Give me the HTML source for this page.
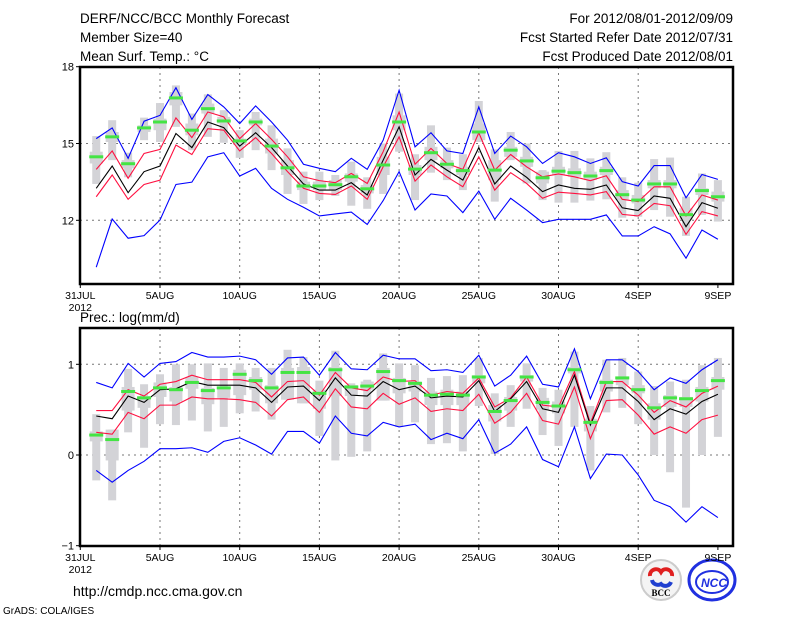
<!DOCTYPE html>
<html><head><meta charset="utf-8"><style>
body{margin:0;background:#fff}
svg text{font-family:"Liberation Sans",sans-serif;fill:#000}
</style></head><body>
<svg id="c" width="800" height="618" xmlns="http://www.w3.org/2000/svg">
<text x="80" y="23" font-size="13.5">DERF/NCC/BCC Monthly Forecast</text>
<text x="80" y="42" font-size="13.5">Member Size=40</text>
<text x="80" y="61" font-size="13.5">Mean Surf. Temp.: °C</text>
<text x="733" y="23" font-size="13.5" text-anchor="end">For 2012/08/01-2012/09/09</text>
<text x="733" y="42" font-size="13.5" text-anchor="end">Fcst Started Refer Date 2012/07/31</text>
<text x="733" y="61" font-size="13.5" text-anchor="end">Fcst Produced Date 2012/08/01</text>
<text x="80" y="322" font-size="13.5">Prec.: log(mm/d)</text>
<text x="73" y="596" font-size="14">http://cmdp.ncc.cma.gov.cn</text>
<text x="3" y="614" font-size="10">GrADS: COLA/IGES</text>
<g>
<circle cx="661" cy="580" r="20" fill="#f4f4f4" stroke="#ccc" stroke-width="2"/>
<path d="M650 576 a6 6 0 0 1 11 -4 a6 6 0 0 1 11 4" stroke="#e02020" stroke-width="4" fill="none"/>
<path d="M652 580 a6 6 0 0 0 9 4 a6 6 0 0 0 10 -2" stroke="#2040d0" stroke-width="4" fill="none"/>
<text x="661" y="596" font-size="9" font-weight="bold" text-anchor="middle" style="font-family:'Liberation Serif',serif">BCC</text>
</g>
<g>
<ellipse cx="712" cy="580" rx="23" ry="20" fill="#fff" stroke="#2030e0" stroke-width="3"/>
<ellipse cx="712" cy="582" rx="16" ry="11" fill="none" stroke="#2030e0" stroke-width="2"/>
<text x="714" y="587" font-size="12" font-weight="bold" font-style="italic" text-anchor="middle" style="fill:#2030e0">NCC</text>
</g>
</svg>
<script>
const days=[1,2,3,4,5,6,7,8,9,10,11,12,13,14,15,16,17,18,19,20,21,22,23,24,25,26,27,28,29,30,31,32,33,34,35,36,37,38,39,40];
const xTickDays=[0,5,10,15,20,25,30,35,40];
const xTickLabels=["31JUL","5AUG","10AUG","15AUG","20AUG","25AUG","30AUG","4SEP","9SEP"];
const tTicks=[18,15,12];
const pTicks=[1,0,-1];
// temperature
const tBlueHi=[15.19,15.61,14.42,15.87,16.10,17.18,15.94,16.91,16.43,15.78,16.47,15.84,15.13,14.19,14.03,13.90,14.42,13.99,15.13,17.08,14.87,15.42,14.71,14.61,16.43,14.61,15.29,14.87,14.22,14.64,14.48,14.22,14.44,13.51,13.34,14.14,14.14,12.88,13.79,13.60];
const tRedHi=[13.99,14.71,13.64,14.61,14.77,16.00,15.23,16.23,16.04,15.19,15.78,15.16,14.48,13.70,13.55,13.47,13.83,13.44,14.68,16.23,14.19,14.81,14.22,13.99,15.42,13.96,14.57,14.09,13.70,13.81,13.70,13.55,13.74,12.82,12.73,13.31,13.31,12.17,12.99,12.79];
const tMean=[13.25,14.12,13.08,13.90,14.12,15.39,14.84,15.84,15.62,14.90,15.42,14.84,14.12,13.42,13.18,13.18,13.47,12.99,14.35,15.65,13.77,14.38,13.96,13.57,14.84,13.42,14.12,13.68,13.12,13.38,13.25,13.21,13.38,12.49,12.38,12.95,12.86,11.75,12.69,12.47];
const tRedLo=[12.92,13.77,12.82,13.40,13.57,14.94,14.57,15.58,15.52,14.71,15.23,14.61,13.90,13.25,13.05,13.01,13.34,12.82,14.09,15.26,13.53,14.16,13.70,13.31,14.48,13.18,13.86,13.44,12.86,13.10,13.05,12.99,13.12,12.23,12.17,12.66,12.57,11.45,12.34,12.17];
const tBlueLo=[10.17,12.05,11.30,11.40,12.01,13.40,13.49,14.48,14.64,13.73,14.03,13.25,12.82,12.51,12.17,12.25,12.32,11.84,12.77,13.90,12.40,13.03,12.95,12.30,13.14,12.04,12.86,12.40,11.91,12.04,12.04,12.04,12.21,11.39,11.39,11.75,11.47,10.52,11.62,11.26];
const tObs=[14.48,15.26,14.21,15.61,15.84,16.78,15.52,16.36,15.88,15.10,15.84,14.90,14.05,13.34,13.34,13.39,13.70,13.23,14.16,15.84,14.00,14.64,14.19,13.94,15.45,13.96,14.74,14.32,13.66,13.92,13.86,13.73,13.94,13.00,12.79,13.42,13.42,12.22,13.16,12.92];
const tWMax=[15.29,15.91,14.64,16.01,16.58,17.27,16.17,16.92,16.30,15.52,16.23,15.71,14.81,13.90,13.90,13.77,14.29,13.68,15.00,16.95,14.58,15.71,14.84,14.58,16.66,14.77,15.45,15.00,13.96,14.71,14.71,14.42,14.66,13.68,13.47,14.39,14.45,12.92,13.83,13.57];
const tWMin=[13.42,14.35,13.68,15.13,15.06,15.65,14.74,15.26,15.03,14.44,14.74,13.96,13.03,12.64,12.79,12.95,12.57,12.45,13.03,14.68,12.79,13.86,13.57,13.18,15.06,12.73,14.35,13.44,12.79,12.69,12.69,12.77,12.82,12.10,12.14,12.40,12.14,11.39,12.21,11.95];
const tQ3=[14.68,15.45,14.35,15.71,15.97,17.01,15.78,16.56,16.04,15.19,15.97,15.19,14.35,13.51,13.51,13.57,13.83,13.38,14.48,16.10,14.16,14.87,14.35,14.09,15.78,14.35,14.87,14.48,13.90,14.09,14.03,13.90,14.09,13.18,12.99,13.57,13.57,12.47,13.25,13.12];
const tQ1=[14.22,15.06,14.03,15.45,15.52,16.49,15.32,16.17,15.78,14.94,15.71,14.61,13.77,13.18,13.18,13.18,13.51,13.05,13.77,15.52,13.77,14.35,14.03,13.77,15.13,13.57,14.48,14.09,13.44,13.77,13.70,13.57,13.77,12.79,12.66,13.25,13.25,12.01,12.99,12.73];
// precipitation
const pBlueHi=[0.80,0.74,1.01,0.86,1.01,1.03,1.13,1.08,1.08,1.09,1.05,0.89,1.07,1.08,0.88,1.13,0.95,0.94,1.10,1.06,1.06,0.93,0.94,0.91,1.10,0.76,0.88,1.09,0.78,0.75,1.17,0.62,1.05,1.05,0.92,0.72,0.85,0.79,0.94,1.05];
const pRedHi=[0.49,0.49,0.72,0.65,0.78,0.81,0.88,0.83,0.83,0.83,0.80,0.64,0.81,0.82,0.66,0.91,0.74,0.71,0.86,0.81,0.82,0.66,0.70,0.68,0.85,0.53,0.63,0.86,0.55,0.53,0.92,0.35,0.81,0.81,0.66,0.47,0.60,0.53,0.68,0.76];
const pMean=[0.43,0.40,0.65,0.58,0.72,0.73,0.81,0.77,0.77,0.77,0.74,0.58,0.75,0.76,0.60,0.85,0.66,0.65,0.81,0.72,0.76,0.63,0.65,0.64,0.82,0.48,0.62,0.81,0.51,0.47,0.88,0.33,0.74,0.74,0.59,0.39,0.51,0.45,0.59,0.67];
const pRedLo=[0.25,0.23,0.47,0.40,0.55,0.55,0.64,0.62,0.62,0.61,0.58,0.43,0.61,0.64,0.47,0.73,0.53,0.51,0.68,0.56,0.63,0.48,0.51,0.49,0.67,0.35,0.47,0.68,0.38,0.34,0.75,0.18,0.60,0.61,0.44,0.23,0.31,0.24,0.39,0.44];
const pBlueLo=[-0.17,-0.30,-0.17,-0.07,0.07,0.07,0.08,0.03,0.15,0.19,0.11,0.01,0.26,0.26,0.13,0.43,0.24,0.21,0.36,0.31,0.34,0.17,0.24,0.18,0.39,0.02,0.12,0.31,-0.05,-0.13,0.31,-0.26,0.01,0.00,-0.22,-0.50,-0.57,-0.74,-0.57,-0.69];
const pObs=[0.22,0.17,0.70,0.63,0.74,0.72,0.80,0.71,0.74,0.89,0.82,0.74,0.91,0.91,0.68,0.94,0.75,0.76,0.92,0.82,0.79,0.66,0.67,0.66,0.86,0.48,0.60,0.86,0.58,0.54,0.94,0.36,0.80,0.85,0.72,0.52,0.63,0.62,0.71,0.82];
const pWMax=[0.45,0.28,0.95,0.78,0.89,1.00,1.00,1.01,0.96,1.01,0.96,0.96,1.16,1.08,0.82,1.15,0.79,0.83,1.12,1.01,0.99,0.85,0.87,0.88,1.07,0.68,0.77,1.01,0.74,0.72,1.14,0.54,1.05,1.07,0.92,0.76,0.81,0.83,0.99,1.07];
const pWMin=[-0.28,-0.50,0.25,0.08,0.34,0.33,0.38,0.26,0.31,0.46,0.48,0.39,0.61,0.57,0.21,-0.06,-0.02,0.04,0.60,0.31,0.36,0.12,0.13,0.04,0.54,0.01,0.31,0.51,0.22,0.10,0.31,-0.17,0.47,0.52,0.34,0.00,-0.19,-0.58,0.00,0.20];
const pQ3=[0.26,0.28,0.75,0.65,0.80,0.75,0.86,0.74,0.75,0.94,0.86,0.77,0.96,0.97,0.72,0.97,0.77,0.81,0.96,0.85,0.81,0.70,0.72,0.70,0.88,0.55,0.64,0.88,0.63,0.59,0.97,0.40,0.83,0.86,0.77,0.57,0.66,0.64,0.75,0.86];
const pQ1=[0.15,-0.06,0.49,0.52,0.64,0.59,0.73,0.56,0.63,0.66,0.72,0.57,0.61,0.57,0.51,0.65,0.65,0.72,0.60,0.68,0.70,0.55,0.55,0.55,0.79,0.37,0.49,0.81,0.50,0.46,0.90,0.26,0.70,0.77,0.68,0.39,0.53,0.53,0.59,0.72];

const svg=document.getElementById('c');
const NS='http://www.w3.org/2000/svg';
const X0=80,X1=733;
const xs=d=>80.3+15.94*d;
function mk(tag,attrs,parent){const e=document.createElementNS(NS,tag);for(const k in attrs)e.setAttribute(k,attrs[k]);(parent||svg).appendChild(e);return e;}

function panel(cfg){
  const g=mk('g',{});
  
  
  const ys=v=>cfg.y0+(cfg.v0-v)*cfg.k;
  // grid
  xTickDays.slice(1,-1).forEach(d=>{const l=mk('line',{x1:xs(d),x2:xs(d),y1:cfg.top,y2:cfg.bot,stroke:'#777','stroke-dasharray':'2,4','stroke-width':1},g);});
  cfg.grid.forEach(v=>{const l=mk('line',{x1:X0,x2:X1,y1:ys(v),y2:ys(v),stroke:'#777','stroke-dasharray':'2,4','stroke-width':1},g);});
  // gray bars
  days.forEach((d,i)=>{
    const x=xs(d);
    const w=mk('rect',{x:x-4,y:ys(cfg.wmax[i]),width:8,height:ys(cfg.wmin[i])-ys(cfg.wmax[i]),fill:'#d3d3d7'},g);
    
    const b=mk('rect',{x:x-6.5,y:ys(cfg.q3[i]),width:13,height:ys(cfg.q1[i])-ys(cfg.q3[i]),fill:'#d3d3d7'},g);
    
  });
  const lines=[[cfg.bhi,'#0000ff','upper-blue-line'],[cfg.blo,'#0000ff','lower-blue-line'],[cfg.rhi,'#ff1040','upper-red-line'],[cfg.rlo,'#ff1040','lower-red-line'],[cfg.mean,'#000','ensemble-mean-line']];
  lines.forEach(([arr,col,nm])=>{
    const p=mk('polyline',{points:arr.map((v,i)=>xs(days[i])+','+ys(v)).join(' '),fill:'none',stroke:col,'stroke-width':1.1},g);
    
  });
  days.forEach((d,i)=>{
    const r=mk('rect',{x:xs(d)-7,y:ys(cfg.obs[i])-1.5,width:14,height:3,fill:'#44e444'},g);
    
  });
  // frame
  const f=mk('rect',{x:X0,y:cfg.top,width:X1-X0,height:cfg.bot-cfg.top,fill:'none',stroke:'#000','stroke-width':2.5},g);
  
  cfg.ticks.forEach(v=>{
    const y=ys(v);
    mk('line',{x1:X0-4,x2:X0,y1:y,y2:y,stroke:'#000'},g);
    const t=mk('text',{x:X0-6,y:y+4,'font-size':11,'text-anchor':'end'},g);
    t.textContent=v===-1?'−1':String(v);
    
  });
  xTickDays.forEach((d,i)=>{
    const x=xs(d);
    mk('line',{x1:x,x2:x,y1:cfg.bot,y2:cfg.bot+4,stroke:'#000'},g);
    const t=mk('text',{x:x,y:cfg.bot+15,'font-size':10.5,'text-anchor':'middle'},g);
    t.textContent=xTickLabels[i];
    
  });
  const yr=mk('text',{x:xs(0),y:cfg.bot+27,'font-size':10.5,'text-anchor':'middle'},g);
  yr.textContent='2012';
  
}
panel({name:'temperature-panel',top:67,bot:284,y0:66.7,v0:18,k:25.6,grid:[15,12],ticks:tTicks,bhi:tBlueHi,blo:tBlueLo,rhi:tRedHi,rlo:tRedLo,mean:tMean,obs:tObs,wmax:tWMax,wmin:tWMin,q3:tQ3,q1:tQ1});
panel({name:'precipitation-panel',top:328,bot:546,y0:364.3,v0:1,k:90.7,grid:[1,0],ticks:pTicks,bhi:pBlueHi,blo:pBlueLo,rhi:pRedHi,rlo:pRedLo,mean:pMean,obs:pObs,wmax:pWMax,wmin:pWMin,q3:pQ3,q1:pQ1});
</script>
</body></html>
